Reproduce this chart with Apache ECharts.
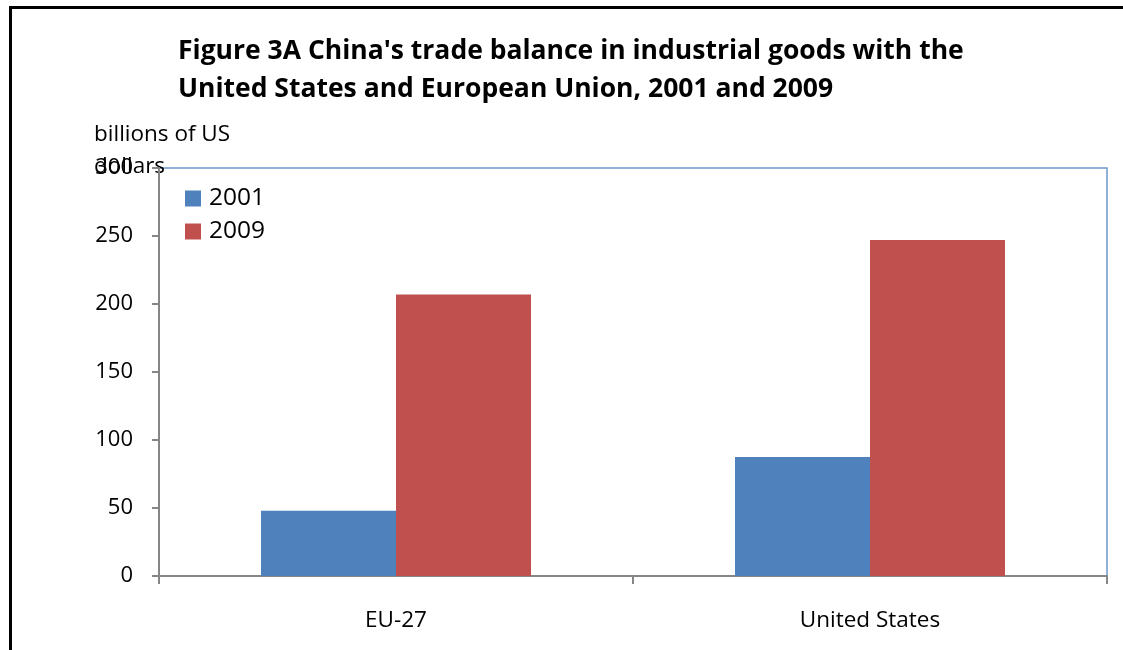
<!DOCTYPE html>
<html><head><meta charset="utf-8">
<script src="https://cdn.jsdelivr.net/npm/echarts@6/dist/echarts.min.js"></script>
<style>
html,body{margin:0;padding:0;background:#fff;}
#frame{position:absolute;left:9px;top:6px;width:1114px;height:644px;border-left:3px solid #000;border-top:3px solid #000;box-sizing:border-box;}
#chart{position:absolute;left:0;top:0;width:1123px;height:650px;}
</style></head>
<body>
<div id="frame"></div>
<div id="chart"></div>
<script>
const categories = ['EU-27', 'United States'];
const seriesNames = ['2001', '2009'];
const values2001 = [48, 87.5];
const values2009 = [207, 247];
const yTicks = {min: 0, max: 300, interval: 50};
const titleText = "Figure 3A China's trade balance in industrial goods with the\nUnited States and European Union, 2001 and 2009";
const yAxisLabel = "billions of US\ndollars";

const FONT = '"Open Sans", sans-serif';
const chart = echarts.init(document.getElementById('chart'), null, {renderer: 'canvas'});
chart.setOption({
  animation: false,
  backgroundColor: 'transparent',
  title: {
    text: titleText, left: 173, top: 27,
    textStyle: {fontFamily: FONT, fontWeight: 'bold', fontSize: 26.5, lineHeight: 38, color: '#000'}
  },
  legend: {
    data: seriesNames, orient: 'vertical', left: 180, top: 181,
    itemWidth: 16, itemHeight: 16, itemGap: 8, icon: 'rect',
    textStyle: {fontFamily: FONT, fontSize: 24.5, color: '#000', padding: [0,0,0,3]}
  },
  graphic: [{
    type: 'text', left: 94, top: 119,
    style: {text: yAxisLabel, fontFamily: FONT, fontSize: 22.5, lineHeight: 32, fill: '#000'}
  }],
  grid: {left: 159, right: 16, top: 168, bottom: 74, show: true, borderColor: '#6f98cc', borderWidth: 1.5, containLabel: false},
  xAxis: {
    type: 'category', data: categories,
    axisLine: {lineStyle: {color: '#868686', width: 2}},
    axisTick: {show: true, length: 8, lineStyle: {color: '#868686', width: 2}},
    axisLabel: {fontFamily: FONT, fontSize: 22.5, color: '#000', margin: 33}
  },
  yAxis: {
    type: 'value', min: yTicks.min, max: yTicks.max, interval: yTicks.interval,
    axisLine: {show: true, lineStyle: {color: '#868686', width: 2}},
    axisTick: {show: true, length: 7, lineStyle: {color: '#868686', width: 2}},
    splitLine: {show: false},
    axisLabel: {fontFamily: FONT, fontSize: 22, color: '#000', margin: 26}
  },
  series: [
    {name: seriesNames[0], type: 'bar', data: values2001, barWidth: 135, barGap: '0%', itemStyle: {color: '#4f81bd'}},
    {name: seriesNames[1], type: 'bar', data: values2009, barWidth: 135, barGap: '0%', itemStyle: {color: '#c0504d'}}
  ]
});
</script>
</body></html>
